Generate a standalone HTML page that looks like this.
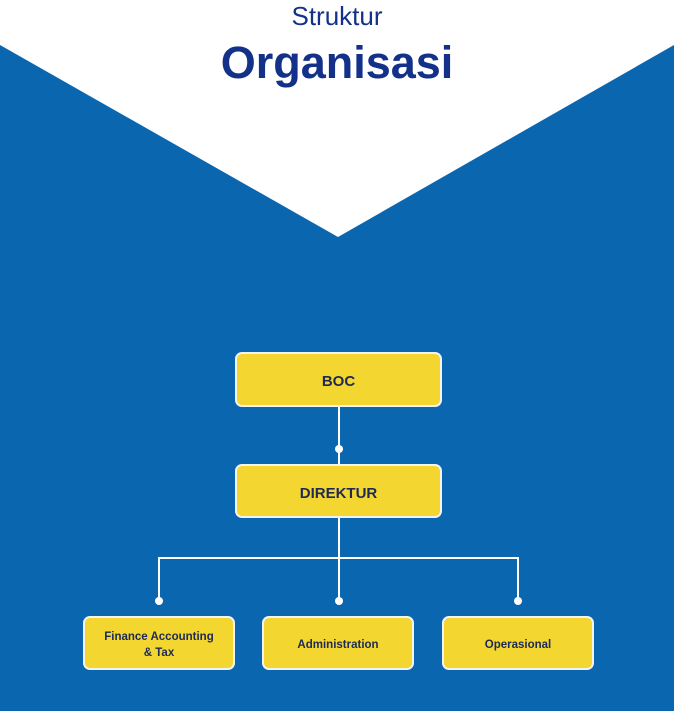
<!DOCTYPE html>
<html><head><style>
html,body{margin:0;padding:0;width:674px;height:711px;overflow:hidden;background:#fff;font-family:"Liberation Sans",Arial,sans-serif}
.t1{position:absolute;top:1px;left:0;width:674px;text-align:center;font-size:26px;color:#14318a}
.t2{position:absolute;top:37px;left:0;width:674px;text-align:center;font-size:45px;font-weight:bold;color:#14318a}
.b{position:absolute;box-sizing:border-box;background:#f4d631;border:2px solid #f3f3f3;border-radius:7px;display:flex;align-items:center;justify-content:center;text-align:center;font-weight:bold;color:#1c2a55;padding-top:4px}
</style></head><body>
<svg width="674" height="711" style="position:absolute;left:0;top:0">
<polygon points="0,45 338,237 674,45 674,711 0,711" fill="#0b66b0"/>
<g stroke="#fff" stroke-width="2" fill="none">
<line x1="339" y1="406" x2="339" y2="465"/>
<line x1="339" y1="517" x2="339" y2="601"/>
<polyline points="159,601 159,558 518,558 518,601"/>
</g>
<g fill="#fff"><circle cx="339" cy="449" r="4"/><circle cx="159" cy="601" r="4"/><circle cx="339" cy="601" r="4"/><circle cx="518" cy="601" r="4"/></g>
</svg>
<div class="t1">Struktur</div>
<div class="t2">Organisasi</div>
<div class="b" style="left:235px;top:352px;width:207px;height:55px;font-size:15px">BOC</div>
<div class="b" style="left:235px;top:464px;width:207px;height:54px;font-size:15px">DIREKTUR</div>
<div class="b" style="left:83px;top:616px;width:152px;height:54px;font-size:11.5px;line-height:16px">Finance Accounting<br>&amp; Tax</div>
<div class="b" style="left:262px;top:616px;width:152px;height:54px;font-size:11.5px">Administration</div>
<div class="b" style="left:442px;top:616px;width:152px;height:54px;font-size:11.5px">Operasional</div>
</body></html>
